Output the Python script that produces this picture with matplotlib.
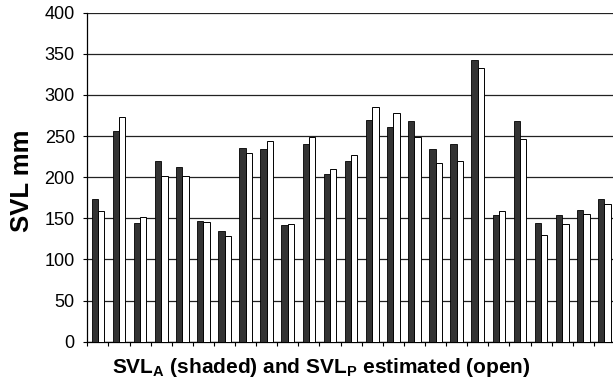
import matplotlib
matplotlib.use("Agg")
import matplotlib.pyplot as plt
import numpy as np

plt.rcParams['font.family'] = ['Liberation Sans', 'DejaVu Sans']
plt.rcParams['mathtext.fontset'] = 'custom'
plt.rcParams['mathtext.rm'] = 'Liberation Sans:bold'
plt.rcParams['mathtext.bf'] = 'Liberation Sans:bold'

# SVL_A (shaded) and SVL_P estimated (open), one pair per specimen
svl_a = [174, 256, 144, 220, 213, 147, 135, 235, 234, 142, 240, 204, 220,
         270, 261, 268, 234, 240, 343, 154, 268, 144, 154, 160, 174]
svl_p = [159, 273, 152, 201, 202, 145, 128, 230, 244, 143, 249, 210, 227,
         285, 278, 249, 217, 220, 333, 159, 246, 130, 143, 155, 167]
yticks = list(range(0, 401, 50))

W, H = 613, 382
fig = plt.figure(figsize=(W / 100, H / 100), dpi=100)
ax = fig.add_axes([87.3 / W, 40.3 / H, (615 - 87.3) / W, 329 / H])

x = np.arange(len(svl_a))
w = 0.3
ax.bar(x - w / 2, svl_a, w, color='#333333', edgecolor='black', linewidth=0.6, zorder=3)
ax.bar(x + w / 2, svl_p, w, color='white', edgecolor='black', linewidth=0.7, zorder=3)

ax.set_ylim(0, 400)
ax.set_xlim(-0.5, len(svl_a) - 0.5)
ax.set_yticks(yticks)
ax.set_yticklabels([str(v) for v in yticks], fontsize=13)
ax.yaxis.grid(True, color='#222222', linewidth=0.9, zorder=0)
ax.set_axisbelow(True)

ax.set_xticks(np.arange(-0.5, len(svl_a), 1.0))
ax.set_xticklabels([])
ax.tick_params(axis='x', direction='out', length=3, width=0.8)
ax.tick_params(axis='y', direction='out', length=3, width=0.8, pad=6)

for s in ['top', 'right']:
    ax.spines[s].set_visible(False)
ax.spines['left'].set_linewidth(0.9)
ax.spines['bottom'].set_linewidth(0.9)

# axis titles placed where they sit in the original
fig.text(22.5 / W, 1 - 180.5 / H, 'SVL mm', rotation=90, fontsize=18.5,
         fontweight='bold', ha='center', va='center')
fig.text(321 / W, 9 / H, r'SVL$_\mathbf{A}$ (shaded) and SVL$_\mathbf{P}$ estimated (open)',
         fontsize=15, fontweight='bold', ha='center', va='baseline')

fig.savefig('out.png', dpi=100)
